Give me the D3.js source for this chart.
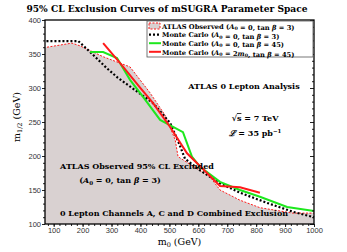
<!DOCTYPE html>
<html>
<head>
<meta charset="utf-8">
<script src="https://cdn.jsdelivr.net/npm/d3@7"></script>
<style>
  body { margin: 0; background: #fff; }
  text { font-family: "DejaVu Serif", serif; }
  .tick text { font-family: "Liberation Sans", Arial, sans-serif; font-size: 7.5px; fill: #333; }
</style>
</head>
<body>
<div id="chart"></div>
<script>
// values: [m0, m1/2] in GeV
const atlasObserved = [[77,360],[163,366],[191,362],[236,353],[271,346],[364,331],[433,293],[485,260],[520,224],[530,199],[641,169],[675,150],[744,135],[813,124],[927,116],[1000,116]];
const mcA0tb3 = [[75,369],[185,369],[226,353],[284,329],[322,315],[443,278],[502,249],[530,222],[554,196],[606,179],[675,160],[744,146],[838,131],[927,118],[1000,110]];
const mcA0tb45 = [[226,353],[271,353],[319,344],[364,312],[409,287],[468,253],[547,235],[578,199],[606,184],[675,162],[744,150],[813,140],[907,125],[1000,119]];
const mcA2m0tb45 = [[271,366],[329,337],[398,301],[443,278],[502,243],[561,204],[630,175],[675,156],[744,154],[813,146]];

const xTicks = [100, 200, 300, 400, 500, 600, 700, 800, 900, 1000];
const yTicks = [100, 150, 200, 250, 300, 350, 400];

const legendLabels = [
    "ATLAS Observed (<i>A</i>₀ = 0, tan <i>β</i> = 3)",
    "Monte Carlo (<i>A</i>₀ = 0, tan <i>β</i> = 3)",
    "Monte Carlo (<i>A</i>₀ = 0, tan <i>β</i> = 45)",
    "Monte Carlo (<i>A</i>₀ = 2<i>m</i>₀, tan <i>β</i> = 45)"
];

const WIDTH = 347, HEIGHT = 252;
const margin = {top: 20, right: 33, bottom: 28, left: 45};
const w = WIDTH - margin.left - margin.right;
const h = HEIGHT - margin.top - margin.bottom;

const FILL = "#d9d1d1";
const GREEN = "#1de81d";
const RED = "#ff1a1a";

const svg = d3.select("#chart").append("svg")
    .attr("width", WIDTH).attr("height", HEIGHT);

// title
svg.append("text")
    .attr("x", 167).attr("y", 12)
    .attr("text-anchor", "middle")
    .style("font-size", "9.1px").style("font-weight", "bold")
    .text("95% CL Exclusion Curves of mSUGRA Parameter Space");

const g = svg.append("g").attr("transform", `translate(${margin.left},${margin.top})`);

const x = d3.scaleLinear().domain([70, 1000]).range([0, w]);
const y = d3.scaleLinear().domain([100, 400]).range([h, 0]);

// excluded region
const area = d3.area()
    .x(d => x(d[0])).y0(h).y1(d => y(d[1]));
const areaData = [[70, atlasObserved[0][1]], ...atlasObserved];
g.append("path").datum(areaData)
    .attr("d", area).attr("fill", FILL);

const line = d3.line().x(d => x(d[0])).y(d => y(d[1]));

g.append("path").datum(atlasObserved)
    .attr("d", line).attr("fill", "none")
    .attr("stroke", RED).attr("stroke-width", 1)
    .attr("stroke-dasharray", "2,1.5");

g.append("path").datum(mcA0tb3)
    .attr("d", line).attr("fill", "none")
    .attr("stroke", "#000").attr("stroke-width", 2.2)
    .attr("stroke-dasharray", "2,2");

g.append("path").datum(mcA0tb45)
    .attr("d", line).attr("fill", "none")
    .attr("stroke", GREEN).attr("stroke-width", 2);

g.append("path").datum(mcA2m0tb45)
    .attr("d", line).attr("fill", "none")
    .attr("stroke", RED).attr("stroke-width", 2);

// axes: major ticks labelled, minor ticks in between
const xMinor = d3.range(80, 1001, 20);
const yMinor = d3.range(100, 401, 10);

g.append("g")
    .attr("transform", `translate(0,${h})`)
    .call(d3.axisBottom(x).tickValues(xMinor).tickSize(2).tickFormat(""))
    .call(a => a.select(".domain").remove());
g.append("g")
    .call(d3.axisLeft(y).tickValues(yMinor).tickSize(2).tickFormat(""))
    .call(a => a.select(".domain").remove());
g.append("g")
    .attr("transform", `translate(${w},0)`)
    .call(d3.axisLeft(y).tickValues(yMinor).tickSize(2).tickFormat(""))
    .call(a => a.select(".domain").remove());
g.append("g")
    .attr("transform", `translate(${w},0)`)
    .call(d3.axisLeft(y).tickValues(yTicks).tickSize(4).tickFormat(""))
    .call(a => a.select(".domain").remove());

g.append("g")
    .attr("transform", `translate(0,${h})`)
    .call(d3.axisBottom(x).tickValues(xTicks).tickSize(3).tickPadding(1).tickFormat(d3.format("d")))
    .call(a => a.select(".domain").remove());
g.append("g")
    .call(d3.axisLeft(y).tickValues(yTicks).tickSize(3).tickPadding(1).tickFormat(d3.format("d")))
    .call(a => a.select(".domain").remove());

g.selectAll(".tick line").attr("stroke", "#222");

// frame
g.append("rect").attr("width", w).attr("height", h)
    .attr("fill", "none").attr("stroke", "#000").attr("stroke-width", 1.3);

// axis titles
svg.append("text")
    .attr("x", margin.left + w / 2).attr("y", 245)
    .attr("text-anchor", "middle")
    .style("font-size", "9.5px")
    .html("m<tspan font-size='6.5px' dy='2'>0</tspan><tspan dy='-2'> (GeV)</tspan>");
svg.append("text")
    .attr("transform", `translate(20,${margin.top + h / 2 - 5}) rotate(-90)`)
    .attr("text-anchor", "middle")
    .style("font-size", "9.5px")
    .html("m<tspan font-size='6.5px' dy='2'>1/2</tspan><tspan dy='-2'> (GeV)</tspan>");

// annotations
const note = (tx, ty, html, size, anchor) => svg.append("text")
    .attr("x", tx).attr("y", ty)
    .attr("text-anchor", anchor || "middle")
    .style("font-size", size + "px").style("font-weight", "bold")
    .html(html);

note(244, 89, "ATLAS 0 Lepton Analysis", 8);
note(255, 121, "√<tspan text-decoration='overline'>s</tspan> = 7 TeV", 8);
note(255, 136, "<tspan font-style='italic'>ℒ</tspan> = 35 pb<tspan font-size='5.5px' dy='-3'>−1</tspan>", 8);
note(137, 169, "ATLAS Observed 95% CL Excluded", 8);
note(120, 183, "(<tspan font-style='italic'>A</tspan><tspan font-size='5.5px' dy='1.5'>0</tspan><tspan dy='-1.5'> = 0, tan </tspan><tspan font-style='italic'>β</tspan> = 3)", 8);
note(174, 216, "0 Lepton Channels A, C and D Combined Exclusion", 8);

// legend
const lg = svg.append("g").attr("transform", "translate(147,21)");
lg.append("rect").attr("width", 166).attr("height", 36)
    .attr("fill", "#fff").attr("stroke", "#555").attr("stroke-width", 0.8);

const legendStyles = [
    {fill: true},
    {stroke: "#000", dash: "2,2", width: 2.2},
    {stroke: GREEN, width: 2},
    {stroke: RED, width: 2}
];
legendLabels.forEach((label, i) => {
    const ly = 5 + i * 8.6;
    const st = legendStyles[i];
    if (st.fill) {
        lg.append("rect").attr("x", 2).attr("y", ly - 3).attr("width", 11).attr("height", 6)
            .attr("fill", FILL).attr("stroke", RED).attr("stroke-width", 1)
            .attr("stroke-dasharray", "2,1.5");
    } else {
        lg.append("line").attr("x1", 2).attr("x2", 14).attr("y1", ly).attr("y2", ly)
            .attr("stroke", st.stroke).attr("stroke-width", st.width)
            .attr("stroke-dasharray", st.dash || null);
    }
    const t = lg.append("text").attr("x", 15).attr("y", ly + 2.7)
        .style("font-size", "6.7px").style("font-weight", "bold");
    const parts = label.split(/(<i>.*?<\/i>|₀)/).filter(s => s.length);
    parts.forEach(p => {
        if (p === "₀") {
            t.append("tspan").attr("font-size", "4.8px").attr("dy", 1.3).text("0");
            t.append("tspan").attr("dy", -1.3).text("");
        } else if (p.startsWith("<i>")) {
            t.append("tspan").attr("font-style", "italic").text(p.slice(3, -4));
        } else {
            t.append("tspan").text(p);
        }
    });
});
</script>
</body>
</html>
